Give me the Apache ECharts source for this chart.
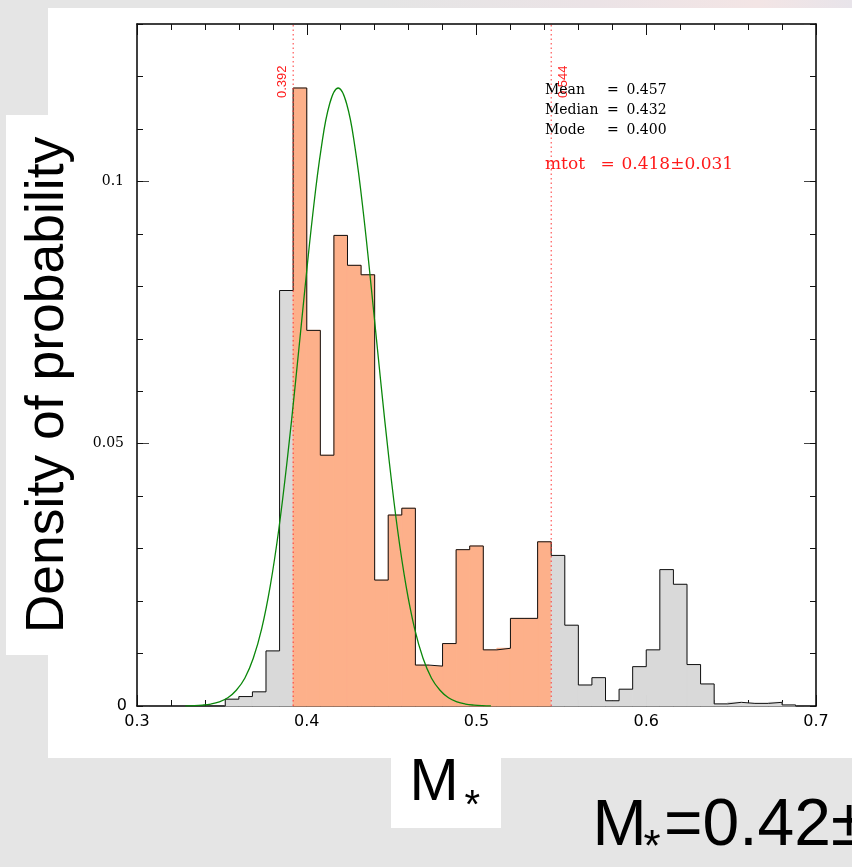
<!DOCTYPE html>
<html><head><meta charset="utf-8">
<script src="https://cdn.jsdelivr.net/npm/echarts@6/dist/echarts.min.js"></script>
<style>html,body{margin:0;padding:0;background:#e5e5e5;}#c{width:852px;height:867px;}</style>
</head><body><div id="c"></div>
<script>
// ---------- data ----------
const binStart = 0.352;
const binWidth = 0.008;
const binHeights = [
  0.0013, 0.0018, 0.0027, 0.0105, 0.0792, 0.1178, 0.0716, 0.0478, 0.0897, 0.0840,
  0.0822, 0.0240, 0.0364, 0.0377, 0.0078, 0.0076, 0.0119, 0.0298, 0.0305, 0.0107,
  0.0110, 0.0167, 0.0167, 0.0313, 0.0287, 0.0154, 0.0040, 0.0054, 0.0010, 0.0032,
  0.0075, 0.0107, 0.0260, 0.0232, 0.0079, 0.0042, 0.0004, 0.0007, 0.0005, 0.0005,
  0.0007, 0.0002
];
const intervalLow = 0.392;
const intervalHigh = 0.544;
const curveX = [0.3285,0.3335,0.3385,0.3435,0.3485,0.3535,0.3585,0.3635,0.3685,0.3735,0.3785,0.3835,0.3885,0.3935,0.3985,0.4035,0.4085,0.4135,0.4185,0.4235,0.4285,0.4335,0.4385,0.4435,0.4485,0.4535,0.4585,0.4635,0.4685,0.4735,0.4785,0.4835,0.4885,0.4935,0.4985,0.5035,0.5085];
const curveY = [0.00003,0.00007,0.00017,0.00037,0.00078,0.00156,0.0030,0.0053,0.0091,0.0148,0.0229,0.0336,0.0469,0.0621,0.0782,0.0936,0.1063,0.1148,0.1178,0.1148,0.1063,0.0936,0.0782,0.0621,0.0469,0.0336,0.0229,0.0148,0.0091,0.0053,0.0030,0.00156,0.00078,0.00037,0.00017,0.00007,0.00003];
const xTickLabels = ['0.3','0.4','0.5','0.6','0.7'];
const yTickLabels = ['0','0.05','0.1'];
const statNames = ['Mean','Median','Mode'];
const statValues = ['0.457','0.432','0.400'];
const fitLabel = 'mtot';
const fitValue = '0.418\u00b10.031';
const yTitle = 'Density of probability';
const xTitle = 'M';
const bottomText = '=0.42\u00b10.03';

// ---------- derived ----------
const r3 = v => +v.toFixed(3);
const bins = binHeights.map((h, i) => [r3(binStart + i * binWidth), r3(binStart + (i + 1) * binWidth), h]);
const last = bins[bins.length - 1];
const outline = [[bins[0][0], 0]].concat(bins.map(b => [b[0], b[2]]), [[last[1], last[2]], [last[1], 0]]);
const curve = curveX.map((x, i) => [x, curveY[i]]);
const yMax = 0.13;

const ORANGE = '#fdb08a';
const GRAY = '#d9d9d9';

const chart = echarts.init(document.getElementById('c'), null, {renderer: 'canvas'});

const xBase = {
  type: 'value', min: 0.3, max: 0.7, interval: 0.1,
  splitLine: {show: false},
  axisLine: {show: true, onZero: false, lineStyle: {color: '#000', width: 1.5}},
  axisTick: {show: true, inside: true, length: 11, lineStyle: {color: '#111', width: 1}},
  minorTick: {show: true, splitNumber: 5, length: 6, lineStyle: {color: '#111', width: 1}},
  minorSplitLine: {show: false}
};
const yMajor = {
  type: 'value', min: 0, max: yMax, interval: 0.05,
  splitLine: {show: false},
  axisLine: {show: true, onZero: false, lineStyle: {color: '#000', width: 1.5}},
  axisTick: {show: true, inside: true, length: 12, lineStyle: {color: '#444', width: 1}}
};
const yMinor = {
  type: 'value', min: 0, max: yMax, interval: 0.01,
  splitLine: {show: false},
  axisLine: {show: false},
  axisLabel: {show: false},
  axisTick: {show: true, inside: true, length: 6, lineStyle: {color: '#111', width: 1}}
};

const txt = (text, x, y, font, fill, extra) => Object.assign({
  type: 'text', z: 10, x: x, y: y,
  style: {text: text, font: font, fill: fill || '#000', align: 'left', verticalAlign: 'middle', textAlign: 'left', textVerticalAlign: 'middle'}
}, extra || {});

const option = {
  backgroundColor: '#e5e5e5',
  animation: false,
  grid: {left: 137, right: 36, top: 24, bottom: 161, show: false},
  xAxis: [
    Object.assign({}, xBase, {
      position: 'bottom',
      axisLabel: {
        show: true, margin: 8, color: '#000', fontFamily: 'DejaVu Sans', fontSize: 16,
        formatter: (v) => { const i = Math.round((v - 0.3) / 0.1); return xTickLabels[i] || ''; }
      }
    }),
    Object.assign({}, xBase, {position: 'top', axisLabel: {show: false}})
  ],
  yAxis: [
    Object.assign({}, yMajor, {
      position: 'left',
      axisLabel: {
        show: true, margin: 10, showMaxLabel: false, color: '#000',
        formatter: (v) => {
          const i = Math.round(v / 0.05);
          if (i > 2 || Math.abs(v - i * 0.05) > 1e-6) return '';
          return i === 0 ? '{z|' + yTickLabels[0] + '}' : '{s|' + yTickLabels[i] + '}';
        },
        rich: {
          z: {fontFamily: 'DejaVu Sans', fontSize: 16, color: '#000'},
          s: {fontFamily: 'DejaVu Serif', fontSize: 14, color: '#000', padding: [0, 3, 0, 0]}
        }
      }
    }),
    Object.assign({}, yMinor, {position: 'left'}),
    Object.assign({}, yMajor, {position: 'right', axisLabel: {show: false}}),
    Object.assign({}, yMinor, {position: 'right'})
  ],
  series: [
    {
      type: 'custom', name: 'hist', xAxisIndex: 0, yAxisIndex: 0, z: 2,
      data: bins,
      encode: {x: [0, 1], y: 2},
      renderItem: (params, api) => {
        const s = api.value(0), e = api.value(1), h = api.value(2);
        const p0 = api.coord([s, h]);
        const p1 = api.coord([e, 0]);
        const inside = s >= intervalLow - 1e-9 && e <= intervalHigh + 1e-9;
        const c = inside ? ORANGE : GRAY;
        return {
          type: 'rect',
          shape: {x: p0[0], y: p0[1], width: p1[0] - p0[0], height: p1[1] - p0[1]},
          style: {fill: c, stroke: c, lineWidth: 1}
        };
      }
    },
    {
      type: 'line', name: 'outline', xAxisIndex: 0, yAxisIndex: 0, z: 3,
      data: outline, step: 'end', showSymbol: false, symbol: 'none',
      lineStyle: {color: '#111', width: 1}
    },
    {
      type: 'custom', name: 'bounds', xAxisIndex: 0, yAxisIndex: 0, z: 4,
      data: [[intervalLow, 0], [intervalHigh, 0]],
      encode: {x: 0, y: 1},
      renderItem: (params, api) => {
        const v = api.value(0);
        const top = api.coord([v, yMax]);
        const bot = api.coord([v, 0]);
        const lab = api.coord([v, 0.119]);
        const side = params.dataIndex === 0 ? -10.5 : 12;
        return {
          type: 'group',
          children: [
            {type: 'line', shape: {x1: bot[0], y1: bot[1], x2: top[0], y2: top[1]},
             style: {stroke: '#ff3535', lineWidth: 1, lineDash: [1.5, 3]}},
            {type: 'text', x: lab[0] + side, y: lab[1], rotation: Math.PI / 2,
             style: {text: v.toFixed(3), fill: '#ff1a1a', font: '13px "Liberation Sans"',
                     align: 'center', verticalAlign: 'middle', textAlign: 'center', textVerticalAlign: 'middle'}}
          ]
        };
      }
    },
    {
      type: 'line', name: 'fit', xAxisIndex: 0, yAxisIndex: 0, z: 5,
      data: curve, smooth: 0.4, showSymbol: false, symbol: 'none',
      lineStyle: {color: '#0a870a', width: 1.3}
    }
  ],
  graphic: [
    {type: 'rect', z: -1, shape: {x: 380, y: 0, width: 472, height: 8},
     style: {fill: new echarts.graphic.LinearGradient(0, 0, 1, 0, [
       {offset: 0, color: '#e5e5e5'}, {offset: 0.45, color: '#ebe3e6'}, {offset: 0.8, color: '#f3e5e5'}, {offset: 1, color: '#e8e4ea'}])}},
    {type: 'rect', z: -1, shape: {x: 48, y: 8, width: 804, height: 750}, style: {fill: '#fff'}},
    {type: 'rect', z: -1, shape: {x: 6, y: 115, width: 43, height: 540}, style: {fill: '#fff'}},
    {type: 'rect', z: -1, shape: {x: 391, y: 757, width: 110, height: 71}, style: {fill: '#fff'}},
    {type: 'text', z: 10, x: 48, y: 385, rotation: Math.PI / 2,
     style: {text: yTitle, font: '53.5px "Liberation Sans"', fill: '#000', align: 'center', verticalAlign: 'middle', textAlign: 'center', textVerticalAlign: 'middle'}},
    txt(xTitle, 409.5, 784.2, '59px "Liberation Sans"'),
    txt('*', 464.5, 807, '40px "Liberation Sans"'),
    txt(xTitle, 592.5, 827.1, '65px "Liberation Sans"'),
    txt('*', 643.5, 849, '44px "Liberation Sans"'),
    txt(bottomText, 664, 827.1, '66px "Liberation Sans"')
  ].concat(
    statNames.map((n, i) => txt(n, 545, 90.5 + i * 20, '14px "DejaVu Serif"')),
    statNames.map((n, i) => txt('=', 607, 90.5 + i * 20, '14px "DejaVu Serif"')),
    statValues.map((v, i) => txt(v, 626.5, 90.5 + i * 20, '14px "DejaVu Serif"')),
    [
      txt(fitLabel, 545, 164.5, '17px "DejaVu Serif"', '#ff1a1a'),
      txt('=', 600.5, 164.5, '17px "DejaVu Serif"', '#ff1a1a'),
      txt(fitValue, 621.5, 164.5, '17px "DejaVu Serif"', '#ff1a1a')
    ]
  )
};
chart.setOption(option);
</script>
</body></html>
